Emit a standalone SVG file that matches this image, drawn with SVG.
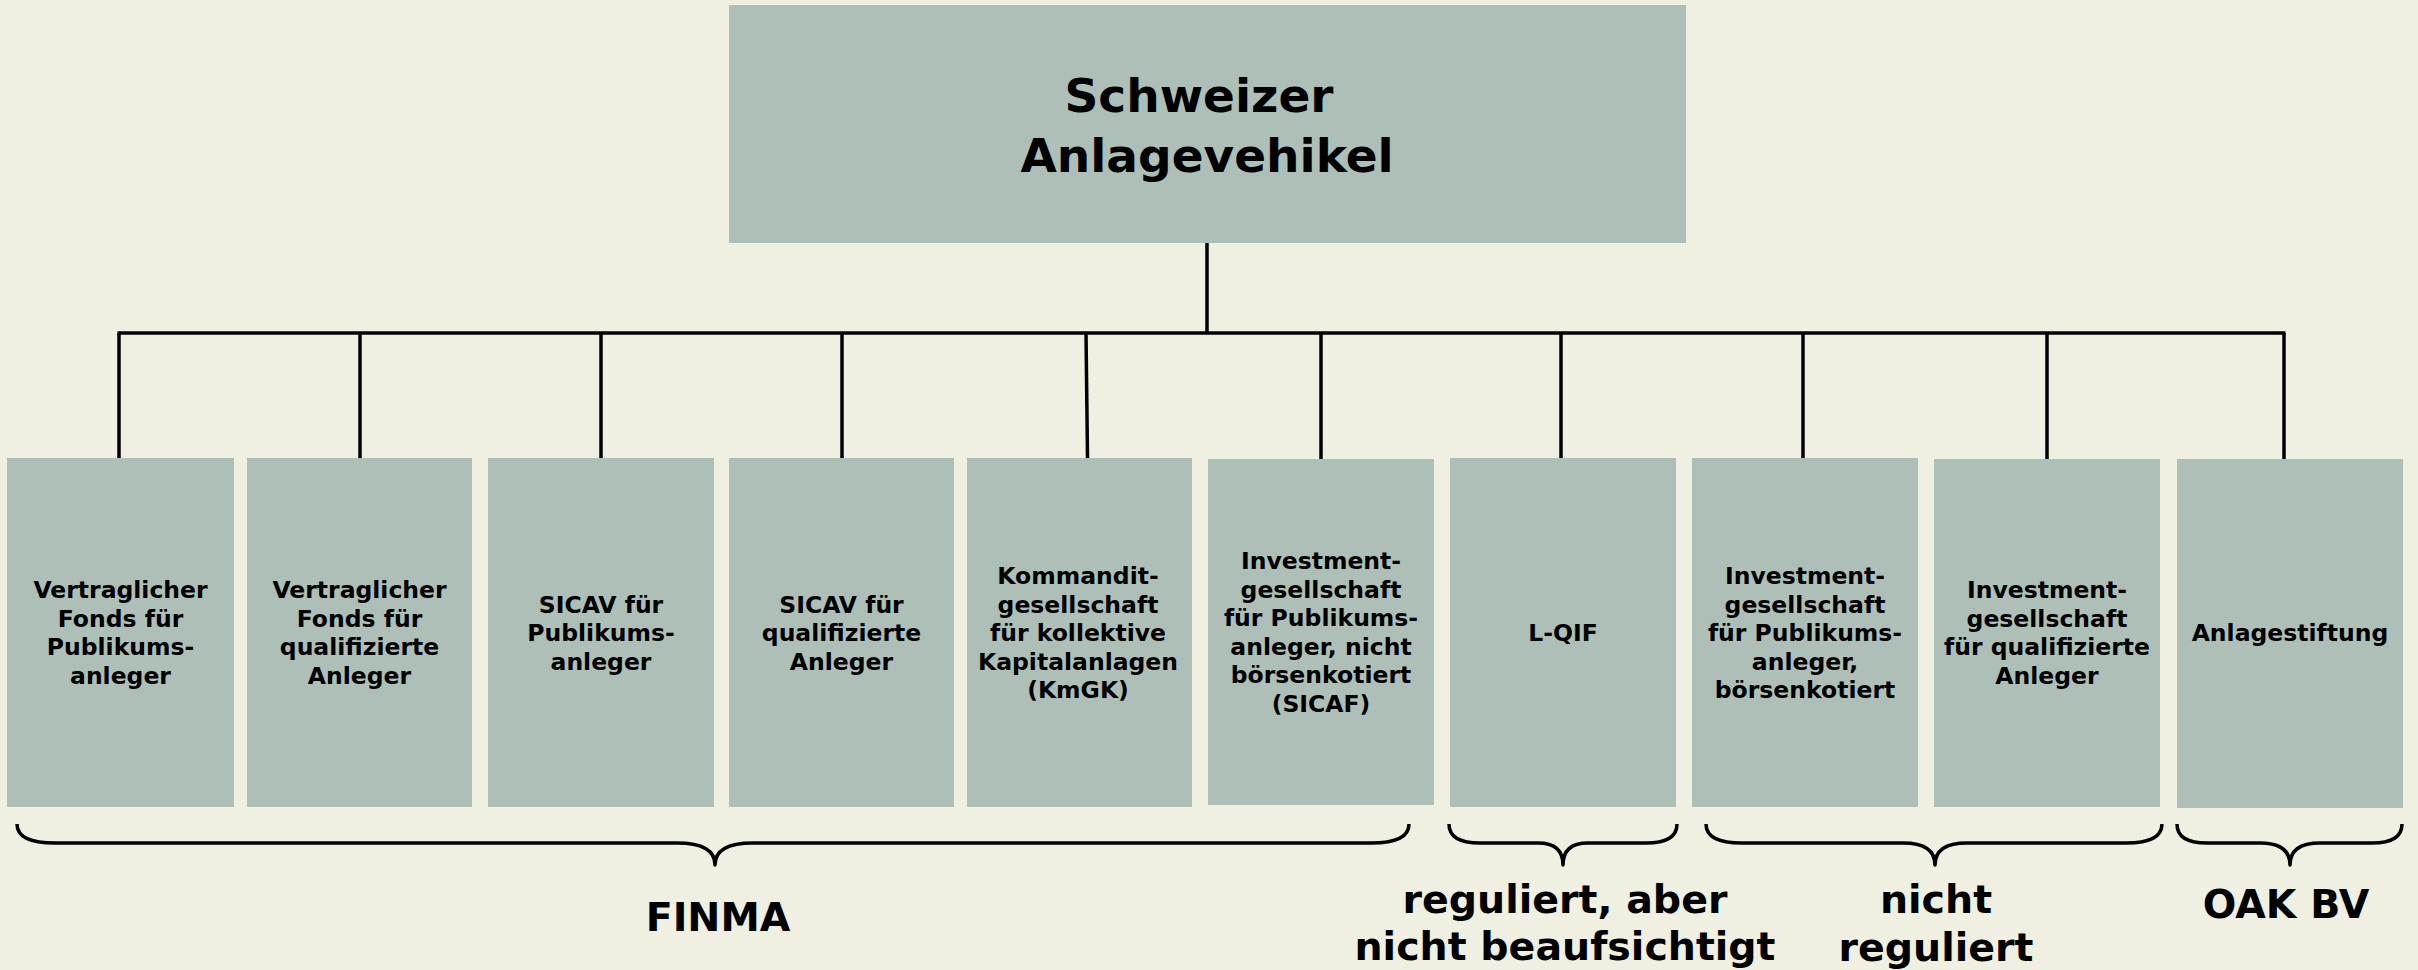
<svg xmlns="http://www.w3.org/2000/svg" width="2418" height="970" viewBox="0 0 2418 970">
<style>
.bg{fill:#efefe2}
.box{fill:#adbfb7}
.t{font-family:"DejaVu Sans","Verdana",sans-serif;font-weight:bold;fill:#000;text-anchor:middle}
.title{font-size:47px}
.lbl{font-size:23.5px}
.grp{font-size:39.5px}
.ln{stroke:#000;stroke-width:3.5;fill:none}
.br{stroke:#000;stroke-width:3.5;fill:none;stroke-linejoin:round}
</style>
<rect class="bg" x="0" y="0" width="2418" height="970"/>

<g id="connectors">
<line class="ln" x1="1207" y1="243" x2="1207" y2="333"/>
<line class="ln" x1="117.5" y1="333" x2="2285.5" y2="333"/>
<line class="ln" x1="119" y1="333" x2="119" y2="458"/>
<line class="ln" x1="360" y1="333" x2="360" y2="458"/>
<line class="ln" x1="601" y1="333" x2="601" y2="458"/>
<line class="ln" x1="842" y1="333" x2="842" y2="458"/>
<line class="ln" x1="1086" y1="333" x2="1087.5" y2="458"/>
<line class="ln" x1="1321" y1="333" x2="1321" y2="459"/>
<line class="ln" x1="1561" y1="333" x2="1561" y2="458"/>
<line class="ln" x1="1803" y1="333" x2="1803" y2="458"/>
<line class="ln" x1="2047" y1="333" x2="2047" y2="459"/>
<line class="ln" x1="2284" y1="333" x2="2284" y2="459"/>
</g>

<g id="root">
<rect class="box" x="729" y="5" width="957" height="238"/>
<text class="t title" x="1199" y="112">Schweizer</text>
<text class="t title" x="1207" y="172">Anlagevehikel</text>
</g>

<g id="n1">
<rect class="box" x="7" y="458" width="227" height="349"/>
<text class="t lbl" x="120.5" y="598.25">Vertraglicher</text>
<text class="t lbl" x="120.5" y="626.75">Fonds für</text>
<text class="t lbl" x="120.5" y="655.25">Publikums-</text>
<text class="t lbl" x="120.5" y="683.75">anleger</text>
</g>
<g id="n2">
<rect class="box" x="247" y="458" width="225" height="349"/>
<text class="t lbl" x="359.5" y="598.25">Vertraglicher</text>
<text class="t lbl" x="359.5" y="626.75">Fonds für</text>
<text class="t lbl" x="359.5" y="655.25">qualifizierte</text>
<text class="t lbl" x="359.5" y="683.75">Anleger</text>
</g>
<g id="n3">
<rect class="box" x="488" y="458" width="226" height="349"/>
<text class="t lbl" x="601" y="612.5">SICAV für</text>
<text class="t lbl" x="601" y="641">Publikums-</text>
<text class="t lbl" x="601" y="669.5">anleger</text>
</g>
<g id="n4">
<rect class="box" x="729" y="458" width="225" height="349"/>
<text class="t lbl" x="841.5" y="612.5">SICAV für</text>
<text class="t lbl" x="841.5" y="641">qualifizierte</text>
<text class="t lbl" x="841.5" y="669.5">Anleger</text>
</g>
<g id="n5">
<rect class="box" x="967" y="458" width="225" height="349"/>
<text class="t lbl" x="1078" y="584">Kommandit-</text>
<text class="t lbl" x="1078" y="612.5">gesellschaft</text>
<text class="t lbl" x="1078" y="641">für kollektive</text>
<text class="t lbl" x="1078" y="669.5">Kapitalanlagen</text>
<text class="t lbl" x="1078" y="698">(KmGK)</text>
</g>
<g id="n6">
<rect class="box" x="1208" y="459" width="226" height="346"/>
<text class="t lbl" x="1321" y="569">Investment-</text>
<text class="t lbl" x="1321" y="597.5">gesellschaft</text>
<text class="t lbl" x="1321" y="626">für Publikums-</text>
<text class="t lbl" x="1321" y="654.5">anleger, nicht</text>
<text class="t lbl" x="1321" y="683">börsenkotiert</text>
<text class="t lbl" x="1321" y="711.5">(SICAF)</text>
</g>
<g id="n7">
<rect class="box" x="1450" y="458" width="226" height="349"/>
<text class="t lbl" x="1563" y="641">L-QIF</text>
</g>
<g id="n8">
<rect class="box" x="1692" y="458" width="226" height="349"/>
<text class="t lbl" x="1805" y="584">Investment-</text>
<text class="t lbl" x="1805" y="612.5">gesellschaft</text>
<text class="t lbl" x="1805" y="641">für Publikums-</text>
<text class="t lbl" x="1805" y="669.5">anleger,</text>
<text class="t lbl" x="1805" y="698">börsenkotiert</text>
</g>
<g id="n9">
<rect class="box" x="1934" y="459" width="226" height="348"/>
<text class="t lbl" x="2047" y="598.25">Investment-</text>
<text class="t lbl" x="2047" y="626.75">gesellschaft</text>
<text class="t lbl" x="2047" y="655.25">für qualifizierte</text>
<text class="t lbl" x="2047" y="683.75">Anleger</text>
</g>
<g id="n10">
<rect class="box" x="2177" y="459" width="226" height="349"/>
<text class="t lbl" x="2290" y="641">Anlagestiftung</text>
</g>

<g id="braces">
<path class="br" d="M17,824 Q17,843 55,843 L677,843 Q715,843 715,865 Q715,843 753,843 L1371,843 Q1409,843 1409,824"/>
<path class="br" d="M1449,824 Q1449,843 1480,843 L1538,843 Q1563,843 1563,865 Q1563,843 1588,843 L1646,843 Q1677,843 1677,824"/>
<path class="br" d="M1706,824 Q1706,843 1742,843 L1903,843 Q1935,843 1935,865 Q1935,843 1967,843 L2126,843 Q2162,843 2162,824"/>
<path class="br" d="M2177,824 Q2177,843 2207,843 L2260,843 Q2290,843 2290,865 Q2290,843 2320,843 L2372,843 Q2402,843 2402,824"/>
</g>

<g id="labels">
<text class="t grp" x="718" y="931">FINMA</text>
<text class="t grp" x="1565" y="913">reguliert, aber</text>
<text class="t grp" x="1565" y="960">nicht beaufsichtigt</text>
<text class="t grp" x="1936" y="913">nicht</text>
<text class="t grp" x="1936" y="961">reguliert</text>
<text class="t grp" x="2286" y="918">OAK BV</text>
</g>
</svg>
